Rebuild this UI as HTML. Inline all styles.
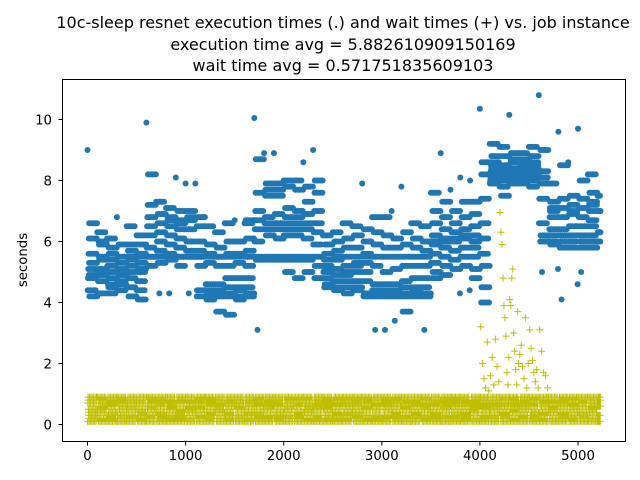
<!DOCTYPE html>
<html><head><meta charset="utf-8">
<style>
html,body{margin:0;padding:0;background:#fff;}
svg{display:block;font-family:"DejaVu Sans","Liberation Sans",sans-serif;}
</style></head>
<body>
<svg id="chart" width="640" height="480" viewBox="0 0 640 480">
  <rect width="640" height="480" fill="#fff"/>
  <g font-size="16" text-anchor="middle" fill="#000">
    <text x="343" y="28">10c-sleep resnet execution times (.) and wait times (+) vs. job instance</text>
    <text x="343" y="50">execution time avg = 5.882610909150169</text>
    <text x="343" y="71">wait time avg = 0.571751835609103</text>
  </g>
  <g id="marks"></g>
  <rect x="62.5" y="79.5" width="563" height="362" fill="none" stroke="#000" stroke-width="1"/>
  <g id="axes"></g>
  <text x="27" y="260" font-size="13.3" text-anchor="middle" transform="rotate(-90 27 260)">seconds</text>
</svg>
<script>
const binStart = [0,100,200,300,400,500,600,700,800,900,1000,1100,1200,1300,1400,1500,1600,1700,1800,1900,2000,2100,2200,2300,2400,2500,2600,2700,2800,2900,3000,3100,3200,3300,3400,3500,3600,3700,3800,3900,4000,4100,4200,4300,4400,4500,4600,4700,4800,4900,5000,5100,5200];
const execTimes = [
[9.0,6.6,6.1,5.6,5.1,4.8,4.4,4.2,5.3,4.9],
[6.3,5.9,5.5,5.1,4.7,4.3,5.0,5.4,4.9,6.0],
[6.1,5.8,5.4,5.0,4.6,4.3,5.2,4.8,5.6,4.5],
[6.8,5.9,5.5,5.1,4.7,4.4,5.0,4.9,5.3,4.6],
[6.5,5.9,5.5,5.2,4.8,4.5,5.0,4.2,5.4,5.7],
[6.2,5.9,5.6,5.3,5.0,4.7,4.4,5.5,5.1,4.1],
[9.9,8.2,7.2,6.8,6.5,6.2,5.8,5.5,5.5,5.2],
[7.3,6.9,6.6,6.3,6.0,5.7,5.5,5.5,5.3,4.3],
[7.1,6.8,6.5,6.2,5.9,5.6,5.5,5.4,6.7,4.3],
[8.1,7.0,6.7,6.4,6.1,5.8,5.5,5.5,6.6,5.2],
[7.9,7.0,6.7,6.4,6.0,5.7,5.5,5.5,6.8,4.3],
[7.9,6.8,6.5,6.0,5.7,5.5,5.5,5.2,4.4,4.2],
[6.5,5.9,5.6,5.5,5.3,4.6,4.4,4.3,4.2,4.1],
[6.3,5.8,5.5,5.5,5.2,4.6,4.4,4.3,4.2,3.7],
[6.6,6.0,5.6,5.5,5.2,4.8,4.5,4.3,4.2,3.6],
[6.7,6.0,5.6,5.5,5.3,4.8,4.5,4.4,4.2,4.1],
[6.6,6.1,5.7,5.5,5.2,4.8,4.5,4.3,4.2,6.7],
[10.05,8.7,7.6,7.0,6.7,6.4,6.0,5.5,5.4,3.1],
[8.9,7.9,7.7,7.5,6.8,6.6,6.4,6.2,5.5,5.4],
[8.9,7.9,7.7,7.5,6.9,6.6,6.4,6.1,5.5,5.4],
[8.0,7.8,7.1,6.8,6.6,6.4,6.2,5.5,5.4,5.0],
[8.0,7.7,7.0,6.8,6.6,6.4,6.2,5.5,5.4,4.8],
[8.6,7.8,7.3,6.9,6.6,6.4,6.1,5.5,5.4,5.0],
[9.0,8.0,7.6,7.0,6.6,6.3,5.9,5.5,5.2,4.8],
[6.2,5.9,5.6,5.4,5.2,5.0,4.8,4.6,5.1,4.5],
[6.3,6.0,5.7,5.4,5.1,4.9,4.7,4.5,5.5,4.4],
[6.6,6.1,5.8,5.5,5.2,4.9,4.7,4.5,5.0,4.3],
[6.5,6.2,5.8,5.5,5.2,5.0,4.7,4.5,5.3,4.4],
[7.9,6.4,6.0,5.6,5.3,5.0,4.7,4.3,5.5,4.2],
[6.8,6.3,5.9,5.5,5.2,4.6,4.4,4.3,4.2,3.1],
[6.8,6.2,5.8,5.5,5.0,4.6,4.4,4.3,4.2,3.1],
[7.0,6.1,5.8,5.5,5.1,4.6,4.4,4.3,4.2,3.4],
[7.8,6.3,5.9,5.5,5.2,4.7,4.5,4.3,4.2,3.7],
[6.6,6.1,5.8,5.5,5.2,4.8,4.5,4.3,4.2,4.4],
[6.5,6.0,5.7,5.5,5.2,4.8,4.5,4.3,4.2,3.1],
[7.6,7.0,6.6,6.2,5.9,5.6,5.3,5.0,4.8,6.0],
[8.9,7.3,6.8,6.4,6.1,5.8,5.5,5.2,4.9,6.0],
[7.7,7.0,6.6,6.3,6.0,5.7,5.4,5.1,4.3,6.1],
[8.1,7.3,6.8,6.4,6.1,5.8,5.5,5.2,4.4,6.2],
[8.0,7.3,6.9,6.5,6.2,5.8,5.5,5.1,4.8,6.0],
[10.35,8.6,8.2,7.4,6.6,6.1,5.6,5.2,4.5,4.0],
[9.2,8.8,8.5,8.3,8.1,8.0,7.9,8.2,8.4,8.6],
[9.1,8.8,8.5,8.3,8.1,8.0,7.8,8.2,7.5,8.4],
[10.15,8.9,8.6,8.3,8.1,8.0,7.9,8.2,8.4,8.7],
[8.9,8.7,8.5,8.3,8.1,8.0,7.9,8.2,8.4,8.6],
[9.1,8.8,8.5,8.3,8.1,8.0,7.8,8.2,8.4,8.6],
[10.8,9.0,8.3,8.1,7.9,7.4,6.6,6.2,6.0,5.0],
[7.9,7.3,7.0,6.8,6.4,6.2,6.0,5.9,5.1,7.1],
[9.6,8.5,7.4,7.1,6.8,6.4,6.2,6.0,5.8,4.1],
[8.6,7.5,7.2,6.9,6.5,6.2,6.0,5.8,4.6,7.0],
[9.7,8.0,7.4,7.1,6.8,6.5,6.2,6.0,5.8,5.0],
[8.2,7.6,7.3,7.0,6.7,6.5,6.2,6.0,5.8,7.2],
[7.5,7.0,6.3,6.0]
];
const waitBase = [
[0.1,0.9,0.3,0.7,0.5,0.2,0.8,0.4],[0.9,0.2,0.6,0.4,0.8,0.1,0.5,0.7],[0.3,0.8,0.1,0.6,0.9,0.4,0.2,0.7],
[0.7,0.2,0.5,0.9,0.3,0.6,0.1,0.8],[0.1,0.6,0.9,0.3,0.7,0.2,0.5,0.8],[0.8,0.4,0.2,0.7,0.1,0.9,0.5,0.3],
[0.2,0.9,0.5,0.1,0.6,0.8,0.3,0.7],[0.6,0.1,0.8,0.4,0.9,0.3,0.7,0.2],[0.9,0.5,0.2,0.8,0.3,0.6,0.1,0.7],
[0.3,0.7,0.9,0.1,0.5,0.8,0.4,0.2],[0.5,0.1,0.7,0.9,0.2,0.4,0.8,0.6],[0.8,0.3,0.1,0.6,0.9,0.2,0.7,0.5],
[0.1,0.7,0.4,0.9,0.3,0.8,0.2,0.6],[0.6,0.9,0.2,0.5,0.8,0.1,0.4,0.7],[0.4,0.2,0.8,0.1,0.7,0.9,0.3,0.6],
[0.9,0.6,0.3,0.8,0.1,0.5,0.7,0.2],[0.2,0.8,0.6,0.3,0.9,0.4,0.1,0.7],[0.7,0.4,0.9,0.2,0.6,0.1,0.8,0.3],
[0.1,0.5,0.8,0.7,0.3,0.9,0.2,0.6],[0.8,0.2,0.4,0.9,0.6,0.1,0.7,0.3],[0.3,0.9,0.7,0.1,0.5,0.8,0.2,0.6],
[0.6,0.3,0.1,0.8,0.9,0.4,0.7,0.2],[0.9,0.7,0.4,0.2,0.6,0.1,0.8,0.5],[0.2,0.6,0.9,0.5,0.1,0.7,0.3,0.8],
[0.7,0.1,0.3,0.9,0.8,0.2,0.5,0.6],[0.4,0.8,0.6,0.1,0.3,0.9,0.7,0.2],[0.1,0.4,0.9,0.7,0.2,0.6,0.8,0.3],
[0.8,0.6,0.2,0.4,0.9,0.1,0.3,0.7],[0.5,0.9,0.1,0.3,0.7,0.8,0.2,0.6],[0.2,0.3,0.8,0.6,0.1,0.9,0.5,0.7],
[0.9,0.1,0.5,0.2,0.8,0.3,0.7,0.6],[0.3,0.7,0.9,0.8,0.4,0.1,0.6,0.2],[0.6,0.2,0.3,0.9,0.1,0.7,0.8,0.5],
[0.1,0.8,0.7,0.4,0.6,0.2,0.9,0.3],[0.7,0.5,0.1,0.9,0.3,0.8,0.2,0.6],[0.4,0.9,0.6,0.2,0.8,0.1,0.7,0.3],
[0.8,0.1,0.9,0.5,0.2,0.6,0.3,0.7],[0.2,0.7,0.3,0.8,0.9,0.4,0.1,0.6],[0.9,0.4,0.6,0.1,0.7,0.3,0.8,0.2],
[0.5,0.2,0.8,0.7,0.1,0.9,0.4,0.6],[0.1,0.9,0.3,0.6,0.8,0.5,0.2,0.7],[0.7,0.3,0.9,0.2,0.5,0.8,0.1,0.6],
[0.4,0.8,0.1,0.9,0.6,0.2,0.7,0.3],[0.9,0.2,0.6,0.4,0.8,0.1,0.7,0.5],[0.3,0.7,0.9,0.1,0.5,0.8,0.2,0.6],
[0.6,0.1,0.4,0.8,0.9,0.3,0.7,0.2],[0.2,0.9,0.7,0.3,0.1,0.6,0.8,0.4],[0.8,0.4,0.2,0.9,0.6,0.1,0.5,0.7],
[0.1,0.6,0.9,0.3,0.7,0.2,0.8,0.4],[0.7,0.3,0.5,0.8,0.1,0.9,0.2,0.6],[0.4,0.9,0.1,0.6,0.8,0.3,0.7,0.2],
[0.9,0.2,0.7,0.4,0.1,0.8,0.5,0.6],[0.3,0.8,0.6,0.1,0.9]
];
const waitSpikeBins = [4000,4100,4200,4300,4400,4500,4600];
const waitSpikes = [
[3.2,2.0,1.5,1.2,2.7,1.1],
[1.6,2.2,1.3,2.8,1.9,1.4],
[6.95,6.3,5.9,4.8,3.9,3.5,2.9,1.7,1.3,2.2],
[4.1,3.9,4.8,5.1,3.0,2.4,1.8,1.3,3.7,2.0],
[2.3,2.6,1.9,1.5,3.5,1.2,2.0],
[3.1,2.5,2.1,1.7,1.4,1.8,1.2],
[3.1,2.4,1.7,1.6,1.2]
];
const xTicks = [0,1000,2000,3000,4000,5000];
const yTicks = [0,2,4,6,8,10];
const lastJob = 5230;

const NS = "http://www.w3.org/2000/svg";
function sx(v){ return 87.5 + v * 0.0981; }
function sy(v){ return 424.5 - v * 30.5; }
const marks = document.getElementById('marks');
const axes = document.getElementById('axes');
function plusPath(x,y){ return `M${(x-3.5).toFixed(1)} ${y.toFixed(1)}h7M${x.toFixed(1)} ${(y-3.5).toFixed(1)}v7`; }

const gW = document.createElementNS(NS,'g');


gW.setAttribute('stroke','#bfbf00');
gW.setAttribute('stroke-width','1');
gW.setAttribute('fill','none');
let d = '';
const REP = 7;
waitBase.forEach((arr,i)=>{
  const s = binStart[i], e = Math.min(s+100,lastJob);
  const n = arr.length*REP;
  for(let j=0;j<n;j++){
    const v = arr[(j*3)%arr.length];
    d += plusPath(sx(s + (j+0.5)*(e-s)/n), sy(v));
  }
});
waitSpikes.forEach((arr,i)=>{
  const s = waitSpikeBins[i];
  arr.forEach((v,k)=>{ d += plusPath(sx(s + (k+0.5)*100/arr.length), sy(v)); });
});
const pW = document.createElementNS(NS,'path');
pW.setAttribute('d',d);


gW.appendChild(pW);
marks.appendChild(gW);

const gE = document.createElementNS(NS,'g');


gE.setAttribute('fill','#1f77b4');
const EREP = 5;
execTimes.forEach((arr,i)=>{
  const s = binStart[i], e = Math.min(s+100,lastJob);
  const sorted = arr.slice().sort((a,b)=>a-b);
  arr.forEach((v,k)=>{
    const isOutlier = (v === sorted[sorted.length-1] && v - sorted[sorted.length-2] > 0.7) || (v === sorted[0] && sorted[1] - v > 0.7);
    const reps = isOutlier ? 1 : EREP;
    for(let r=0;r<reps;r++){
      const frac = ((k*0.37 + r/reps) % 1);
      const c = document.createElementNS(NS,'circle');
      c.setAttribute('cx', sx(s + frac*(e-s)).toFixed(1));
      c.setAttribute('cy', sy(v).toFixed(1));
      c.setAttribute('r','3');
      
      
      gE.appendChild(c);
    }
  });
});
marks.appendChild(gE);

xTicks.forEach(t=>{
  const x = sx(t);
  const l = document.createElementNS(NS,'line');
  l.setAttribute('x1',x); l.setAttribute('x2',x);
  l.setAttribute('y1',441.5); l.setAttribute('y2',445.5);
  l.setAttribute('stroke','#000');
  
  
  axes.appendChild(l);
  const tx = document.createElementNS(NS,'text');
  tx.setAttribute('x',x); tx.setAttribute('y',460);
  tx.setAttribute('font-size','13.3'); tx.setAttribute('text-anchor','middle');
  tx.textContent = t;
  
  
  axes.appendChild(tx);
});
yTicks.forEach(t=>{
  const y = sy(t);
  const l = document.createElementNS(NS,'line');
  l.setAttribute('x1',58.5); l.setAttribute('x2',62.5);
  l.setAttribute('y1',y); l.setAttribute('y2',y);
  l.setAttribute('stroke','#000');
  
  
  axes.appendChild(l);
  const tx = document.createElementNS(NS,'text');
  tx.setAttribute('x',52); tx.setAttribute('y',y+5);
  tx.setAttribute('font-size','13.3'); tx.setAttribute('text-anchor','end');
  tx.textContent = t;
  
  
  axes.appendChild(tx);
});
</script>
</body></html>
